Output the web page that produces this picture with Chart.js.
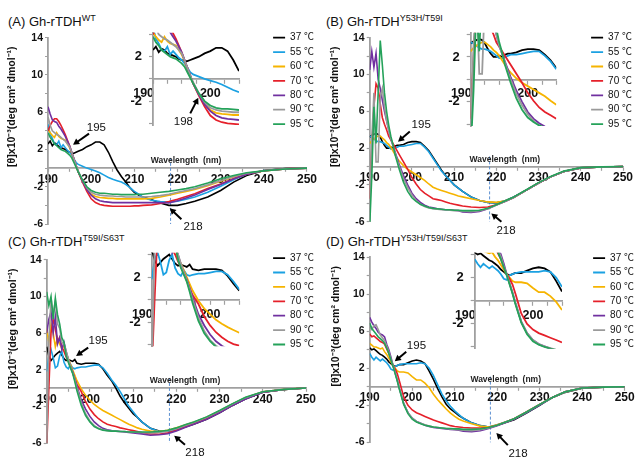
<!DOCTYPE html>
<html>
<head>
<meta charset="utf-8">
<title>CD spectra of Gh-rTDH variants</title>
<script src="https://cdn.jsdelivr.net/npm/chart.js@4.4.1/dist/chart.umd.min.js"></script>
<style>
  html, body { margin: 0; padding: 0; background: #fff; }
  body { position: relative; width: 638px; height: 462px; overflow: hidden; font-family: Arial, "Liberation Sans", sans-serif; }
  canvas { position: absolute; }
  .panel-title { position: absolute; font-size: 13px; line-height: 15px; color: #111; white-space: nowrap; }
  .panel-title sup { font-size: 9px; vertical-align: 5px; line-height: 0; }
</style>
</head>
<body>
<div class="panel-title" style="left:8px;top:14px">(A) Gh-rTDH<sup>WT</sup></div>
<div class="panel-title" style="left:326px;top:14px">(B) Gh-rTDH<sup>Y53H/T59I</sup></div>
<div class="panel-title" style="left:8px;top:234px">(C) Gh-rTDH<sup>T59I/S63T</sup></div>
<div class="panel-title" style="left:326px;top:234px">(D) Gh-rTDH<sup>Y53H/T59I/S63T</sup></div>
<canvas id="mainA"></canvas>
<canvas id="mainB"></canvas>
<canvas id="mainC"></canvas>
<canvas id="mainD"></canvas>
<canvas id="insetA"></canvas>
<canvas id="insetB"></canvas>
<canvas id="insetC"></canvas>
<canvas id="insetD"></canvas>
<script>
// wavelength grid (nm) - finer steps below 197 where the spectra are noisy
var wavelength = [190, 190.5, 191, 191.5, 192, 192.5, 193, 193.5, 194, 194.5, 195, 195.5, 196, 196.5, 197,
  198, 199, 200, 201, 202, 203, 204, 205, 206, 207, 208, 209, 210, 211, 212,
  214, 216, 218, 220, 222, 224, 227, 230, 233, 236, 240, 245, 250];

var temps = ['37 \u2103', '55 \u2103', '60 \u2103', '70 \u2103', '80 \u2103', '90 \u2103', '95 \u2103'];
var colors = ['#000000', '#1ba1e2', '#f6b400', '#e5202a', '#7030a0', '#9a9a9a', '#25a25a'];

// (A) Gh-rTDH WT
var wt37 = [2.6, 2.9, 2.4, 2.7, 2.6, 2.3, 2.2, 2.1, 2.0, 1.8, 1.7, 1.6, 1.6, 1.7, 1.8,
  2.0, 2.3, 2.5, 2.8, 2.8, 2.5, 1.7, 0.7, -0.2, -0.9, -1.5, -2.1, -2.6, -2.9, -3.1,
  -3.4, -3.75, -4.0, -4.0, -3.8, -3.55, -3.1, -2.4, -1.5, -0.8, -0.25, -0.05, 0];
var wt55 = [4.7, 3.6, 3.2, 2.6, 2.5, 2.9, 2.2, 2.5, 2.2, 1.9, 1.7, 1.4, 1.0, 0.6, 0.4,
  0.2, 0.0, -0.15, -0.3, -0.5, -0.75, -1.0, -1.2, -1.35, -1.5, -1.75, -2.1, -2.5, -2.8, -3.15,
  -3.45, -3.6, -3.65, -3.55, -3.35, -3.1, -2.6, -1.95, -1.25, -0.65, -0.25, -0.07, 0];
var wt60 = [4.2, 3.8, 3.5, 3.3, 3.8, 3.4, 3.2, 3.1, 3.0, 2.6, 2.2, 1.6, 0.9, 0.2, -0.4,
  -1.4, -2.2, -2.8, -3.05, -3.15, -3.2, -3.25, -3.25, -3.3, -3.3, -3.3, -3.3, -3.3, -3.3, -3.3,
  -3.25, -3.1, -2.9, -2.7, -2.5, -2.3, -1.9, -1.4, -0.95, -0.6, -0.3, -0.08, 0];
var wt70 = [4.0, 4.6, 5.0, 5.3, 5.3, 5.0, 4.6, 4.1, 3.6, 3.0, 2.4, 1.7, 1.0, 0.3, -0.4,
  -1.5, -2.5, -3.3, -3.7, -3.9, -4.0, -4.05, -4.1, -4.1, -4.1, -4.1, -4.1, -4.05, -4.05, -4.0,
  -3.95, -3.8, -3.6, -3.35, -3.05, -2.75, -2.2, -1.7, -1.15, -0.65, -0.28, -0.08, 0];
var wt80 = [6.6, 5.8, 5.2, 5.0, 4.9, 4.5, 4.2, 3.8, 3.4, 2.9, 2.4, 1.7, 1.0, 0.3, -0.4,
  -1.4, -2.3, -2.9, -3.3, -3.5, -3.6, -3.65, -3.7, -3.7, -3.7, -3.7, -3.7, -3.7, -3.7, -3.7,
  -3.7, -3.7, -3.75, -3.5, -3.2, -2.9, -2.3, -1.75, -1.15, -0.65, -0.28, -0.08, 0];
var wt90 = [5.5, 4.6, 4.0, 3.8, 3.6, 3.5, 3.3, 3.1, 2.9, 2.6, 2.3, 1.7, 1.0, 0.3, -0.3,
  -1.3, -2.1, -2.6, -2.8, -2.9, -2.95, -3.0, -3.0, -3.05, -3.05, -3.1, -3.1, -3.1, -3.1, -3.1,
  -3.05, -2.95, -2.8, -2.6, -2.4, -2.2, -1.8, -1.35, -0.9, -0.55, -0.28, -0.08, 0];
var wt95 = [3.8, 3.3, 3.0, 2.6, 2.4, 2.2, 2.0, 1.9, 1.8, 1.6, 1.4, 1.1, 0.6, 0.1, -0.4,
  -1.3, -2.0, -2.4, -2.6, -2.7, -2.7, -2.75, -2.8, -2.8, -2.85, -2.85, -2.85, -2.85, -2.8, -2.8,
  -2.7, -2.6, -2.5, -2.35, -2.2, -2.0, -1.6, -1.15, -0.8, -0.5, -0.3, -0.1, 0];

// (B) Gh-rTDH Y53H/T59I
var yt37 = [3.2, 3.4, 3.5, 3.6, 3.5, 3.2, 2.7, 2.3, 2.0, 2.0, 2.1, 2.0, 2.2, 2.3, 2.3,
  2.4, 2.6, 2.7, 2.7, 2.6, 2.2, 1.7, 1.0, 0.3, -0.4, -1.0, -1.5, -2.0, -2.35, -2.7,
  -3.3, -3.7, -3.9, -3.95, -3.75, -3.35, -2.6, -1.8, -1.1, -0.55, -0.15, -0.05, 0];
var yt55 = [3.3, 3.2, 3.0, 2.8, 2.7, 2.7, 2.6, 2.5, 2.3, 2.1, 1.9, 1.9, 2.0, 2.1, 2.2,
  2.2, 2.3, 2.4, 2.5, 2.5, 2.1, 1.6, 0.9, 0.2, -0.5, -1.0, -1.5, -2.0, -2.35, -2.7,
  -3.3, -3.7, -3.9, -3.95, -3.75, -3.35, -2.6, -1.8, -1.1, -0.55, -0.15, -0.05, 0];
var yt60 = [2.5, 2.8, 3.0, 3.2, 3.3, 3.3, 3.1, 2.9, 2.6, 2.4, 2.1, 1.7, 1.3, 0.9, 0.6,
  0.1, -0.3, -0.6, -0.9, -1.2, -1.5, -1.9, -2.25, -2.45, -2.6, -2.75, -2.9, -3.05, -3.2, -3.3,
  -3.5, -3.7, -3.85, -3.9, -3.75, -3.4, -2.6, -1.8, -1.1, -0.55, -0.15, -0.05, 0];
var yt70 = [-3.5, 2.0, 6.5, 9.0, 8.5, 6.8, 5.3, 4.6, 4.0, 3.3, 2.9, 2.5, 2.1, 1.7, 1.3,
  0.5, -0.3, -1.2, -1.9, -2.5, -2.9, -3.2, -3.5, -3.6, -3.7, -3.85, -4.0, -4.1, -4.2, -4.3,
  -4.4, -4.45, -4.4, -4.15, -3.8, -3.4, -2.6, -1.8, -1.1, -0.55, -0.15, -0.05, 0];
var yt80 = [10.5, 12.5, 10.8, 12.3, 9.5, 8.5, 7.2, 6.0, 5.0, 4.0, 3.0, 2.3, 1.6, 0.9, 0.2,
  -1.0, -2.0, -2.9, -3.5, -3.9, -4.2, -4.4, -4.5, -4.6, -4.65, -4.7, -4.7, -4.75, -4.8, -4.95,
  -5.0, -4.9, -4.6, -4.2, -3.8, -3.4, -2.6, -1.8, -1.1, -0.55, -0.15, -0.05, 0];
var yt90 = [-5.0, 3.0, 8.0, 0.5, 0.5, 7.5, 8.5, 6.5, 5.0, 4.0, 3.0, 2.3, 1.5, 0.7, 0.0,
  -1.3, -2.3, -3.1, -3.7, -4.1, -4.35, -4.5, -4.6, -4.65, -4.7, -4.7, -4.75, -4.8, -4.8, -4.85,
  -4.9, -4.8, -4.6, -4.2, -3.8, -3.4, -2.6, -1.8, -1.1, -0.55, -0.15, -0.05, 0];
var yt95 = [-6.5, -1.0, 6.5, 2.5, 8.0, 13.7, 11.0, 8.0, 6.0, 4.5, 3.3, 2.4, 1.3, 0.5, -0.3,
  -1.7, -2.7, -3.4, -3.8, -4.1, -4.3, -4.45, -4.55, -4.6, -4.65, -4.7, -4.7, -4.75, -4.75, -4.8,
  -4.8, -4.75, -4.55, -4.15, -3.75, -3.35, -2.55, -1.75, -1.05, -0.5, -0.12, -0.04, 0];

// (C) Gh-rTDH T59I/S63T
var ts37 = [4.5, 3.5, 3.0, 3.3, 3.6, 3.8, 4.0, 3.6, 3.2, 3.0, 3.1, 3.0, 2.9, 3.1, 2.7,
  2.6, 2.7, 2.7, 2.7, 2.6, 2.1, 1.4, 0.8, 0.0, -0.9, -1.6, -2.2, -2.8, -3.2, -3.7,
  -4.4, -4.7, -4.75, -4.5, -4.25, -3.95, -3.4, -2.7, -1.9, -1.2, -0.45, -0.17, 0];
var ts55 = [1.8, 3.5, 4.2, 3.3, 2.2, 2.4, 3.5, 4.0, 2.8, 2.3, 2.1, 2.6, 2.2, 2.1, 2.2,
  2.3, 2.3, 2.4, 2.5, 2.5, 2.2, 1.6, 0.9, 0.3, -0.4, -1.2, -2.0, -2.6, -3.2, -3.7,
  -4.4, -4.75, -4.7, -4.5, -4.2, -3.9, -3.35, -2.65, -1.85, -1.15, -0.45, -0.17, 0];
var ts60 = [6.5, 5.0, 7.0, 6.0, 4.5, 5.5, 4.8, 4.3, 4.6, 3.8, 3.2, 2.6, 2.0, 1.4, 0.8,
  -0.1, -0.8, -1.3, -1.8, -2.15, -2.45, -2.7, -2.95, -3.2, -3.45, -3.7, -3.95, -4.15, -4.35, -4.5,
  -4.7, -4.75, -4.6, -4.35, -4.05, -3.75, -3.2, -2.5, -1.75, -1.05, -0.4, -0.15, 0];
var ts70 = [-6.5, 0.0, 6.0, 7.5, 6.5, 5.0, 5.5, 4.5, 4.0, 3.4, 2.9, 2.3, 1.7, 1.0, 0.4,
  -0.4, -1.5, -2.3, -2.9, -3.35, -3.7, -3.95, -4.1, -4.2, -4.35, -4.45, -4.55, -4.65, -4.75, -4.85,
  -5.0, -5.05, -4.9, -4.6, -4.25, -3.9, -3.35, -2.65, -1.85, -1.15, -0.45, -0.17, 0];
var ts80 = [6.0, 7.5, 8.3, 6.0, 7.8, 4.8, 5.5, 4.2, 5.0, 4.0, 3.1, 2.4, 1.8, 1.0, 0.2,
  -1.3, -2.3, -3.1, -3.7, -4.1, -4.4, -4.55, -4.65, -4.7, -4.75, -4.8, -4.85, -4.9, -4.95, -5.0,
  -5.15, -5.1, -5.0, -4.7, -4.3, -3.95, -3.4, -2.7, -1.9, -1.2, -0.45, -0.17, 0];
var ts90 = [-6.5, 5.0, 9.8, 8.0, 9.5, 7.0, 6.5, 5.0, 4.8, 4.0, 3.2, 2.4, 1.7, 0.9, 0.0,
  -1.6, -2.8, -3.6, -4.1, -4.4, -4.55, -4.65, -4.7, -4.7, -4.75, -4.75, -4.8, -4.8, -4.85, -4.85,
  -4.9, -4.85, -4.7, -4.45, -4.1, -3.75, -3.2, -2.5, -1.75, -1.05, -0.4, -0.15, 0];
var ts95 = [10.5, 9.0, 10.0, 7.5, 9.8, 8.0, 7.0, 5.5, 5.0, 3.5, 2.8, 2.2, 1.6, 0.7, -0.3,
  -1.9, -3.0, -3.7, -4.2, -4.45, -4.6, -4.65, -4.7, -4.7, -4.75, -4.75, -4.8, -4.8, -4.8, -4.8,
  -4.8, -4.75, -4.6, -4.35, -4.0, -3.7, -3.15, -2.45, -1.7, -1.0, -0.4, -0.15, 0];

// (D) Gh-rTDH Y53H/T59I/S63T
var yts37 = [4.2, 4.0, 4.1, 3.9, 3.7, 3.5, 3.4, 3.2, 3.0, 2.7, 2.5, 2.3, 2.2, 2.3, 2.4,
  2.4, 2.6, 2.8, 2.9, 2.8, 2.5, 1.7, 0.8, -0.2, -1.1, -1.9, -2.4, -2.75, -3.1, -3.4,
  -3.9, -4.2, -4.35, -4.15, -3.85, -3.55, -2.8, -2.0, -1.15, -0.6, -0.15, -0.04, 0];
var yts55 = [3.6, 3.2, 2.9, 3.2, 3.0, 2.8, 3.0, 2.8, 2.6, 2.3, 1.9, 1.8, 2.2, 2.3, 2.4,
  2.5, 2.5, 2.5, 2.5, 2.6, 2.5, 2.0, 1.2, 0.2, -0.8, -1.5, -2.1, -2.6, -3.0, -3.4,
  -3.9, -4.2, -4.35, -4.1, -3.8, -3.45, -2.75, -1.95, -1.15, -0.55, -0.13, -0.04, 0];
var yts60 = [4.7, 4.5, 4.3, 4.3, 4.2, 4.1, 4.2, 3.8, 3.5, 3.1, 2.7, 2.3, 2.0, 1.7, 1.6,
  1.6, 1.5, 1.1, 0.74, 0.74, 0.4, -0.1, -0.8, -1.4, -1.9, -2.4, -2.85, -3.2, -3.5, -3.7,
  -4.0, -4.25, -4.35, -4.1, -3.8, -3.45, -2.7, -1.9, -1.15, -0.55, -0.13, -0.04, 0];
var yts70 = [5.7, 5.4, 5.5, 5.3, 5.1, 4.9, 4.8, 4.6, 4.1, 3.6, 2.9, 2.3, 1.9, 1.4, 0.6,
  -1.1, -2.0, -2.5, -2.8, -3.0, -3.2, -3.4, -3.6, -3.75, -3.9, -4.05, -4.2, -4.3, -4.35, -4.4,
  -4.45, -4.45, -4.4, -4.15, -3.8, -3.45, -2.7, -1.9, -1.15, -0.55, -0.13, -0.04, 0];
var yts80 = [7.5, 7.0, 6.6, 6.3, 5.9, 5.7, 5.6, 5.4, 4.6, 4.0, 3.2, 2.3, 1.5, 0.7, -0.2,
  -1.8, -2.8, -3.4, -3.75, -3.95, -4.15, -4.3, -4.4, -4.45, -4.5, -4.55, -4.6, -4.65, -4.7, -4.8,
  -4.85, -4.75, -4.5, -4.2, -3.85, -3.5, -2.75, -1.95, -1.15, -0.55, -0.13, -0.04, 0];
var yts90 = [6.5, 6.2, 6.6, 6.7, 6.2, 5.6, 5.3, 5.0, 4.4, 3.8, 3.0, 2.3, 1.5, 0.7, -0.2,
  -1.8, -2.8, -3.4, -3.75, -3.95, -4.1, -4.25, -4.35, -4.4, -4.45, -4.5, -4.55, -4.6, -4.65, -4.7,
  -4.75, -4.65, -4.45, -4.15, -3.8, -3.45, -2.7, -1.9, -1.15, -0.55, -0.13, -0.04, 0];
var yts95 = [6.9, 6.3, 6.0, 5.7, 5.4, 5.2, 5.0, 4.7, 4.2, 3.6, 2.9, 2.2, 1.4, 0.6, -0.3,
  -1.9, -2.9, -3.5, -3.8, -4.0, -4.15, -4.25, -4.35, -4.4, -4.45, -4.5, -4.5, -4.55, -4.55, -4.6,
  -4.6, -4.55, -4.4, -4.15, -3.8, -3.45, -2.7, -1.9, -1.15, -0.55, -0.13, -0.04, 0];

// tick labels
var mainXLabels = [190, 200, 210, 220, 230, 240, 250];
var mainYLabels = [-6, -2, 2, 6, 10, 14];
var insetXLabels = [190, 200];
var insetYLabels = [-2, 2];

var AXIS = '#a0a0a0';
var ARIAL = "Arial, 'Liberation Sans', sans-serif";
var NARROW = "'Liberation Sans Narrow', 'Arial Narrow', Arial, sans-serif";
var LEGEND_FONT = "Arial, 'Liberation Sans', 'Noto Sans CJK KR', sans-serif";
var YTITLE = '[\u03b8]x10\u207b\u00b3(deg cm\u00b2 dmol\u207b\u00b9)   ';

function place(cv, b) {
  cv.width = b.width;
  cv.height = b.height;
  cv.style.left = b.left + 'px';
  cv.style.top = b.top + 'px';
}

function makeSets(series, lw) {
  return series.map(function (vals, i) {
    return {
      label: temps[i],
      data: vals.map(function (v, k) { return { x: wavelength[k], y: v }; }),
      borderColor: colors[i],
      backgroundColor: colors[i],
      borderWidth: lw,
      pointRadius: 0,
      tension: 0,
      clip: 0,
      order: series.length - i,   // later temperatures drawn on top
      xAxisID: 'x',
      yAxisID: 'y'
    };
  });
}

function stepTicks(from, to, step) {
  return function (s) {
    var t = [];
    for (var v = from; v <= to + 1e-9; v += step) t.push({ value: Math.round(v * 10) / 10 });
    s.ticks = t;
  };
}

function arrow(ctx, x1, y1, x2, y2) {
  var a = Math.atan2(y2 - y1, x2 - x1), h = 7;
  ctx.strokeStyle = '#000';
  ctx.fillStyle = '#000';
  ctx.lineWidth = 2;
  ctx.beginPath();
  ctx.moveTo(x1, y1);
  ctx.lineTo(x2 - Math.cos(a) * h * 0.7, y2 - Math.sin(a) * h * 0.7);
  ctx.stroke();
  ctx.beginPath();
  ctx.moveTo(x2, y2);
  ctx.lineTo(x2 - h * Math.cos(a - 0.5), y2 - h * Math.sin(a - 0.5));
  ctx.lineTo(x2 - h * Math.cos(a + 0.5), y2 - h * Math.sin(a + 0.5));
  ctx.closePath();
  ctx.fill();
}

// dashed 218 nm guide, axis caption, and the arrow call-outs
function notesPlugin(n) {
  return {
    id: 'notes',
    beforeDatasetsDraw: function (chart) {
      if (!n.dash) return;
      var ctx = chart.ctx, sx = chart.scales.x, sy = chart.scales.y;
      var px = sx.getPixelForValue(n.dash[0]);
      ctx.save();
      ctx.strokeStyle = '#5b8fd0';
      ctx.lineWidth = 1;
      ctx.setLineDash([3, 2]);
      ctx.beginPath();
      ctx.moveTo(px, sy.getPixelForValue(n.dash[1]));
      ctx.lineTo(px, sy.getPixelForValue(n.dash[2]));
      ctx.stroke();
      ctx.restore();
    },
    afterDatasetsDraw: function (chart) {
      var ctx = chart.ctx, sx = chart.scales.x, sy = chart.scales.y;
      ctx.save();
      ctx.textAlign = 'center';
      ctx.textBaseline = 'middle';
      if (n.caption) {
        ctx.font = 'bold 8.5px ' + ARIAL;
        ctx.fillStyle = '#222';
        ctx.fillText('Wavelength  (nm)', sx.getPixelForValue(n.caption[0]), sy.getPixelForValue(n.caption[1]));
      }
      (n.marks || []).forEach(function (m) {
        ctx.font = '11.5px ' + ARIAL;
        ctx.fillStyle = '#111';
        ctx.fillText(m.text, sx.getPixelForValue(m.at[0]), sy.getPixelForValue(m.at[1]));
        arrow(ctx, sx.getPixelForValue(m.arrow[0]), sy.getPixelForValue(m.arrow[1]),
          sx.getPixelForValue(m.arrow[2]), sy.getPixelForValue(m.arrow[3]));
      });
      ctx.restore();
    }
  };
}

function mainChart(id, b, series, n) {
  var cv = document.getElementById(id);
  place(cv, b);
  return new Chart(cv, {
    type: 'line',
    data: { datasets: makeSets(series, 1.6) },
    options: {
      responsive: false,
      animation: false,
      events: [],
      layout: { padding: { left: 0, top: b.plotTop - b.top, right: b.left + b.width - b.plotRight, bottom: b.top + b.height - b.plotBottom } },
      plugins: { legend: { display: false }, tooltip: { enabled: false } },
      scales: {
        x: {
          type: 'linear', position: { y: 0 }, min: 190, max: 250,
          afterBuildTicks: stepTicks(190, 250, 5),
          border: { color: AXIS, width: 1.8 },
          grid: { drawOnChartArea: false, tickLength: 3, tickColor: AXIS, tickWidth: 1.2 },
          ticks: {
            autoSkip: false, maxRotation: 0, minRotation: 0, padding: 1, color: '#111',
            font: { family: NARROW, size: 12, weight: 'bold' },
            callback: function (v) { return mainXLabels.indexOf(v) >= 0 ? String(v) : ''; }
          }
        },
        y: {
          type: 'linear', position: 'left', min: -6, max: 14,
          afterBuildTicks: stepTicks(-6, 14, 2),
          afterFit: function (s) { s.width = b.plotLeft - b.left; },
          border: { color: AXIS, width: 1.8 },
          grid: { drawOnChartArea: false, tickLength: 3, tickColor: AXIS, tickWidth: 1.2 },
          ticks: {
            autoSkip: false, padding: 2, color: '#111',
            font: { family: ARIAL, size: 10.5, weight: 'bold' },
            callback: function (v) { return mainYLabels.indexOf(v) >= 0 ? String(v) : ''; }
          },
          title: {
            display: true, text: YTITLE, align: 'end', color: '#111',
            font: { family: ARIAL, size: 10.5, weight: 'bold' },
            padding: { top: b.titlePad, bottom: 0 }
          }
        }
      }
    },
    plugins: [notesPlugin(n)]
  });
}

function insetChart(id, b, series, n) {
  var cv = document.getElementById(id);
  place(cv, b);
  var plotRight = b.plotRight - b.left;
  return new Chart(cv, {
    type: 'line',
    data: { datasets: makeSets(series, 1.8) },
    options: {
      responsive: false,
      animation: false,
      events: [],
      layout: { padding: { left: 0, right: 0, bottom: 0, top: b.plotTop - b.top } },
      plugins: {
        tooltip: { enabled: false },
        legend: {
          position: 'right', align: 'start',
          labels: {
            usePointStyle: true, pointStyle: 'line', pointStyleWidth: 12, padding: 4.4,
            color: '#111', font: { family: LEGEND_FONT, size: 10 },
            sort: function (p, q) { return p.datasetIndex - q.datasetIndex; }
          }
        }
      },
      scales: {
        x: {
          type: 'linear', position: { y: 0 }, min: 190, max: 205,
          afterBuildTicks: stepTicks(190, 205, 2.5),
          border: { color: AXIS, width: 1.8 },
          grid: { drawOnChartArea: false, tickLength: 4, tickColor: AXIS, tickWidth: 1.2 },
          ticks: {
            autoSkip: false, maxRotation: 0, minRotation: 0, padding: 3, color: '#111',
            font: { family: NARROW, size: 12.5, weight: 'bold' },
            callback: function (v) {
              if (insetXLabels.indexOf(v) < 0) return '';
              return v === 190 ? '190\u2002\u2002\u2002' : String(v);
            }
          }
        },
        y: {
          type: 'linear', position: 'left', min: -4.15, max: 4.15,
          afterBuildTicks: stepTicks(-4, 4, 2),
          afterFit: function (s) { s.width = b.plotLeft - b.left; },
          border: { color: AXIS, width: 1.8 },
          grid: { drawOnChartArea: false, tickLength: 4, tickColor: AXIS, tickWidth: 1.2 },
          ticks: {
            autoSkip: false, padding: 7, color: '#111',
            font: { family: ARIAL, size: 13, weight: 'bold' },
            callback: function (v) { return insetYLabels.indexOf(v) >= 0 ? String(v) : ''; }
          }
        },
        // invisible spacer between the inset plot and its legend
        gapR: {
          type: 'linear', axis: 'y', position: 'right', display: false,
          afterFit: function (s) { s.width = Math.max(0, s.chart.width - s.chart.legend.width - plotRight); }
        },
        // invisible room under the inset so the legend column fits
        gapB: {
          type: 'linear', axis: 'x', position: 'bottom', display: false,
          afterFit: function (s) { s.height = b.top + b.height - b.plotBottom; }
        }
      }
    },
    plugins: [notesPlugin(n)]
  });
}

mainChart('mainA', { left: 0, top: 0, width: 318, height: 240, plotLeft: 48, plotRight: 307, plotTop: 37.7, plotBottom: 224, titlePad: 5.4 },
  [wt37, wt55, wt60, wt70, wt80, wt90, wt95],
  { dash: [218.4, 1.1, -6], caption: [222, 0.75], marks: [
    { text: '195', at: [201.2, 4.3], arrow: [199.5, 3.7, 195.8, 2.5] },
    { text: '218', at: [223.6, -6.25], arrow: [220.9, -5.5, 218.2, -4.3] }] });

mainChart('mainB', { left: 318, top: 0, width: 320, height: 240, plotLeft: 369.7, plotRight: 623, plotTop: 37.7, plotBottom: 221.7, titlePad: 11.2 },
  [yt37, yt55, yt60, yt70, yt80, yt90, yt95],
  { dash: [218.4, 1.1, -6], caption: [222, 0.75], marks: [
    { text: '195', at: [202.2, 4.5], arrow: [199.5, 3.8, 196.7, 2.7] },
    { text: '218', at: [222.3, -7.0], arrow: [221.2, -6.0, 218.8, -5.1] }] });

mainChart('mainC', { left: 0, top: 228, width: 318, height: 234, plotLeft: 46.7, plotRight: 306, plotTop: 259.7, plotBottom: 443, titlePad: 7 },
  [ts37, ts55, ts60, ts70, ts80, ts90, ts95],
  { dash: [218.4, 1.1, -6], caption: [222, 0.75], marks: [
    { text: '195', at: [201.9, 5.1], arrow: [199.6, 4.4, 196.8, 3.5] },
    { text: '218', at: [224.3, -7.1], arrow: [222, -6.2, 219.5, -5.2] }] });

mainChart('mainD', { left: 318, top: 228, width: 320, height: 234, plotLeft: 369.7, plotRight: 624.7, plotTop: 257.3, plotBottom: 442.3, titlePad: 12 },
  [yts37, yts55, yts60, yts70, yts80, yts90, yts95],
  { dash: [218.4, 1.1, -6], caption: [222, 0.75], marks: [
    { text: '195', at: [201, 4.4], arrow: [198.6, 3.8, 195.9, 2.75] },
    { text: '218', at: [224.9, -7.2], arrow: [222.5, -6.3, 219.8, -5.0] }] });

insetChart('insetA', { left: 60, top: 18, width: 264, height: 132, plotLeft: 153, plotRight: 239, plotTop: 28.3, plotBottom: 125 },
  [wt37, wt55, wt60, wt70, wt80, wt90, wt95],
  { marks: [{ text: '198', at: [195.3, -3.9], arrow: [196.5, -3.1, 197.9, -1.7] }] });

insetChart('insetB', { left: 378, top: 18, width: 264, height: 132, plotLeft: 470.7, plotRight: 556.3, plotTop: 28.3, plotBottom: 126 },
  [yt37, yt55, yt60, yt70, yt80, yt90, yt95], {});

insetChart('insetC', { left: 60, top: 238, width: 264, height: 132, plotLeft: 151.7, plotRight: 239.3, plotTop: 248.7, plotBottom: 346.3 },
  [ts37, ts55, ts60, ts70, ts80, ts90, ts95], {});

insetChart('insetD', { left: 380, top: 238, width: 264, height: 132, plotLeft: 474.7, plotRight: 562, plotTop: 248.7, plotBottom: 348.7 },
  [yts37, yts55, yts60, yts70, yts80, yts90, yts95], {});
</script>
</body>
</html>
